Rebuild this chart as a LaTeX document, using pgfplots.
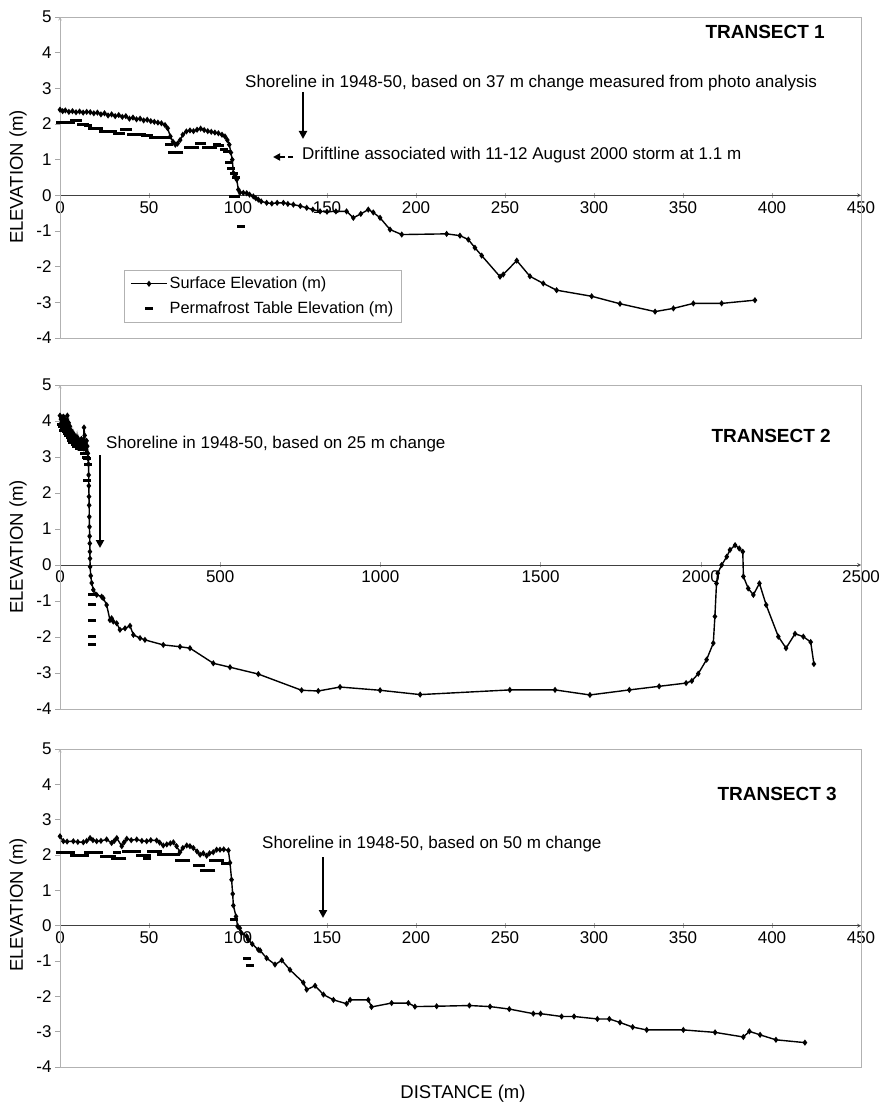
\documentclass[border=0pt]{standalone}
\usepackage{pgfplots}
\pgfplotsset{compat=1.18}
\usepackage{fontspec}
\setmainfont{Liberation Sans}
\usetikzlibrary{arrows.meta}

\pgfplotsset{
  transect/.style={
    scale only axis, width=801pt,
    axis x line=middle, axis y line=left,
    every non boxed x axis/.append style={x axis line style={-}},
    every non boxed y axis/.append style={y axis line style={-}},
    x axis line style={black!75, line width=0.7pt},
    y axis line style={gray!60, line width=0.6pt},
    hide obscured x ticks=false, hide obscured y ticks=false,
    ymin=-4, ymax=5, ytick={-4,-3,...,5},
    tick label style={font=\fontsize{17}{20}\selectfont},
    /pgf/number format/assume math mode=true,
    /pgf/number format/1000 sep={},
    ytick align=outside, xtick align=center,
    major tick length=5pt,
    tick style={gray!70, line width=0.6pt},
    clip=false,
    legend image code/.code={\draw[mark repeat=2,mark phase=2,##1] plot coordinates {(0pt,0pt) (18pt,0pt) (36pt,0pt)};},
  },
  surf/.style={black, line width=1.4pt, mark=diamond*, mark size=2pt},
  perm/.style={black, only marks, mark=-, mark size=4pt, mark options={line width=3pt}},
}

\begin{document}
\begin{tikzpicture}
\useasboundingbox (0,0) rectangle (879pt,-1105pt);

% ---------------- TRANSECT 1 ----------------
\begin{axis}[transect, at={(60pt,-17pt)}, anchor=north west, height=321pt,
  xmin=0, xmax=450, xtick={0,50,...,450},
  legend style={at={(0.080,0.212)}, anchor=north west, draw=gray!60,
    font=\fontsize{16.3}{19}\selectfont, legend cell align=left,
    row sep=7pt, inner xsep=6pt, inner ysep=5pt}]
\draw[gray!60, line width=0.6pt] (rel axis cs:0,0) rectangle (rel axis cs:1,1);
\addplot[surf] coordinates {
(0,2.40) (1.5,2.36) (3,2.38) (5,2.34) (7,2.36) (9,2.33) (11,2.35) (13,2.32) (15,2.34) (17,2.33)
(19,2.30) (21,2.32) (23,2.27) (25,2.30) (27,2.24) (29,2.27) (31,2.22) (33,2.25) (35,2.20) (37,2.22)
(39,2.15) (41,2.18) (43,2.13) (45,2.15) (47,2.10) (49,2.12) (51,2.08) (53,2.06) (55,2.04) (57,2.02)
(59,1.97) (60.5,1.88) (62,1.65) (63.5,1.50) (64.8,1.42) (66,1.45) (67.5,1.55) (69,1.70) (71,1.79)
(73,1.82) (75,1.80) (77,1.84) (79,1.87) (81,1.83) (83,1.80) (85,1.78) (87,1.76) (89,1.74) (91,1.70)
(92.7,1.65) (94,1.55) (95.1,1.42) (96,1.20) (96.8,1.00) (97.4,0.63) (98.3,0.55) (99.3,0.44)
(100.2,0.16) (101.1,0.08) (103,0.07) (104.9,0.06) (106.5,0.02) (108.6,-0.03) (110,-0.08)
(111.4,-0.12) (113,-0.17) (116.1,-0.21) (119,-0.23) (122,-0.21) (125.5,-0.21) (128,-0.24)
(131.1,-0.26) (135,-0.30) (138.6,-0.35) (142,-0.40) (146.1,-0.45) (150,-0.46) (155,-0.45)
(161,-0.45) (164.8,-0.63) (169,-0.52) (173.2,-0.40) (176,-0.48) (179.8,-0.63) (185.4,-0.96)
(192,-1.10) (217.2,-1.08) (224.7,-1.13) (229.4,-1.24) (233.1,-1.47) (236.9,-1.69) (247.2,-2.28)
(249,-2.22) (256.6,-1.83) (264,-2.27) (271.5,-2.47) (279,-2.66) (298.7,-2.83) (314.6,-3.04)
(334.3,-3.26) (344.6,-3.17) (355.8,-3.03) (371.7,-3.03) (390.4,-2.94)
};
\addlegendentry{Surface Elevation (m)}
\addplot[perm] coordinates {
(0,2.03) (2,2.03) (4,2.03) (6,2.05) (8,2.10) (10,2.10) (12,1.98) (14,1.98) (16,1.96) (18,1.88)
(20,1.88) (22,1.86) (24,1.79) (26,1.79) (28,1.78) (30,1.78) (32,1.74) (34,1.74) (36,1.84) (38,1.84)
(40,1.70) (42,1.70) (44,1.70) (46,1.70) (48,1.69) (50,1.68) (52,1.63) (54,1.63) (56,1.62) (58,1.62)
(60,1.62) (61.5,1.42) (63,1.20) (65,1.20) (67,1.20) (72,1.33) (74,1.33) (76,1.35) (78,1.46) (80,1.46)
(82,1.35) (84,1.33) (86,1.33) (88,1.42) (90,1.40) (92,1.28) (94,1.23) (95,0.92) (96,0.74)
(97.5,0.61) (99,0.51) (97,-0.03) (99,-0.03) (101.5,-0.88)
};
\addlegendentry{Permafrost Table Elevation (m)}
\end{axis}

% ---------------- TRANSECT 2 ----------------
\begin{axis}[transect, at={(60pt,-385pt)}, anchor=north west, height=324pt,
  xmin=0, xmax=2500, xtick={0,500,...,2500}]
\draw[gray!60, line width=0.6pt] (rel axis cs:0,0) rectangle (rel axis cs:1,1);
\addplot[surf] coordinates {
(0,4.15) (3,4.05) (5,3.95) (7,4.10) (9,3.85) (11,4.12) (13,3.90) (15,4.05) (17,3.80) (19,4.00)
(21,3.92) (23,4.15) (25,3.85) (27,3.95) (29,3.70) (31,3.85) (33,3.75) (35,3.60) (37,3.70) (39,3.55)
(41,3.65) (43,3.50) (45,3.60) (47,3.45) (49,3.55) (51,3.40) (53,3.55) (55,3.35) (57,3.50) (59,3.40)
(61,3.30) (63,3.45) (65,3.35) (67,3.50) (69,3.25) (71,3.40) (73,3.30) (75,3.82) (77,3.60) (79,3.35)
(81,3.20) (83,3.45) (85,3.30) (87,3.10) (88,2.95) (89,2.80) (89.5,2.50) (90,2.20) (90.5,1.90)
(91,1.66) (91.5,1.34) (92,1.06) (92.5,0.80) (93,0.60) (93.3,0.37) (93.6,0.18) (94,-0.05)
(96,-0.30) (99,-0.50) (104,-0.69) (114.5,-0.83) (130,-0.88) (135,-0.92) (145.6,-1.11) (156,-1.53)
(161,-1.48) (166.4,-1.57) (177,-1.62) (187,-1.80) (203,-1.76) (218.5,-1.69) (229,-1.94)
(249.7,-2.03) (265,-2.08) (322.4,-2.22) (374.5,-2.27) (405.7,-2.31) (478.5,-2.73) (530.6,-2.84)
(619,-3.03) (754,-3.48) (806,-3.50) (874,-3.39) (999,-3.48) (1124,-3.60) (1404,-3.47) (1545,-3.47)
(1654,-3.61) (1777,-3.47) (1870,-3.37) (1954,-3.28) (1972,-3.22) (1992,-3.02) (2018,-2.63)
(2039,-2.17) (2044,-1.43) (2049,-0.51) (2053,-0.23) (2065,0.00) (2081,0.23) (2091,0.42)
(2107,0.55) (2120,0.46) (2131,0.37) (2133,-0.32) (2148,-0.65) (2164,-0.83) (2183,-0.51)
(2204,-1.11) (2242,-1.99) (2266,-2.31) (2294,-1.91) (2320,-1.99) (2343,-2.14) (2353,-2.75)
};
\addplot[perm] coordinates {
(2,3.90) (6,3.85) (10,3.75) (14,3.80) (18,3.70) (22,3.65) (26,3.60) (30,3.55) (34,3.45) (38,3.40)
(42,3.50) (46,3.35) (50,3.30) (56,3.40) (60,3.25) (66,3.30) (70,3.20) (76,3.10) (80,3.00)
(84,2.95) (86,2.80) (85,2.36) (99,-0.83) (99,-1.09) (99,-1.55) (99,-1.99) (99,-2.20)
};
\end{axis}

% ---------------- TRANSECT 3 ----------------
\begin{axis}[transect, at={(60pt,-749pt)}, anchor=north west, height=318pt,
  xmin=0, xmax=450, xtick={0,50,...,450}]
\draw[gray!60, line width=0.6pt] (rel axis cs:0,0) rectangle (rel axis cs:1,1);
\addplot[surf] coordinates {
(0,2.53) (1.9,2.39) (4,2.38) (7.5,2.39) (10,2.37) (13.1,2.36) (15,2.40) (16.9,2.48) (18.5,2.42)
(20.6,2.39) (23,2.40) (26.2,2.44) (29,2.34) (30.5,2.40) (31.9,2.48) (34.7,2.25) (36,2.36)
(37.5,2.46) (40,2.42) (43.1,2.44) (46,2.40) (48.7,2.39) (51,2.42) (54.3,2.41) (56,2.35) (58,2.27)
(60,2.30) (62,2.33) (63.7,2.36) (65.5,2.25) (67.4,2.08) (69,2.20) (71.2,2.27) (73,2.25) (74.9,2.20)
(77,2.10) (78.7,2.01) (80.5,2.05) (82.4,1.98) (84,2.05) (86.1,2.08) (88,2.15) (89.9,2.15)
(92,2.16) (94.6,2.13) (95.5,1.78) (96.4,1.30) (97,0.90) (97.4,0.57) (98.9,0.26) (99.8,-0.02)
(101,-0.07) (102,-0.21) (104.9,-0.30) (105.8,-0.40) (108,-0.52) (111.4,-0.68) (112.4,-0.70)
(116.1,-0.92) (120.8,-1.10) (124.6,-0.98) (129.2,-1.25) (136.7,-1.61) (138.6,-1.81) (143.3,-1.70)
(148,-1.95) (153.6,-2.10) (161,-2.21) (163,-2.10) (173.2,-2.10) (175,-2.30) (186.3,-2.19)
(195.7,-2.19) (199.4,-2.29) (211.6,-2.28) (230,-2.26) (241.6,-2.29) (252.4,-2.36) (265.9,-2.49)
(270,-2.49) (281.8,-2.57) (288.8,-2.57) (301.9,-2.64) (308.6,-2.64) (314.6,-2.74) (321.7,-2.87)
(329.6,-2.95) (350.2,-2.95) (368,-3.02) (383.9,-3.15) (387.3,-2.99) (393.3,-3.09) (402.2,-3.23)
(418.5,-3.31)
};
\addplot[perm] coordinates {
(0,2.06) (2,2.06) (4,2.06) (6,2.06) (8,1.98) (10,1.98) (12,1.98) (14,1.98) (16,2.06) (18,2.06)
(20,2.06) (22,2.06) (24.5,1.95) (27,1.95) (29,1.95) (31,1.89) (33,1.89) (35,1.89) (32,2.08)
(37,2.10) (39,2.10) (41,2.10) (43,2.10) (45,1.98) (47,1.98) (49,1.98) (48.7,1.89) (51,2.10)
(53,2.10) (55,2.10) (57,2.01) (59,2.01) (61,2.01) (63,2.01) (65,2.01) (67,1.85) (69,1.85)
(71,1.85) (77,1.70) (79,1.70) (81,1.57) (83,1.57) (85,1.57) (86,1.85) (88,1.85) (90,1.85)
(92.5,1.76) (94,1.76) (98,0.17) (104.9,-0.94) (106.7,-1.13)
};
\end{axis}

% ---------------- annotations ----------------
\tikzset{ann/.style={font=\fontsize{17}{20}\selectfont, inner sep=0pt},
         ttl/.style={font=\bfseries\fontsize{19}{22}\selectfont, inner sep=0pt, anchor=east},
         lab/.style={font=\fontsize{18.5}{22}\selectfont, inner sep=0pt}}
\node[ttl] at (825pt,-32pt) {TRANSECT 1};
\node[ttl] at (831pt,-436pt) {TRANSECT 2};
\node[ttl] at (837pt,-794pt) {TRANSECT 3};

\node[ann, anchor=west] at (245pt,-83pt) {Shoreline in 1948-50, based on 37 m change measured from photo analysis};
\draw[line width=2.4pt, -{Triangle[length=8pt, width=8pt]}] (303pt,-92pt) -- (303pt,-139pt);
\node[ann, anchor=west] at (302pt,-155pt) {Driftline associated with 11-12 August 2000 storm at 1.1 m};
\draw[line width=2.4pt, dash pattern=on 5pt off 3pt, -{Triangle[length=7pt, width=7pt]}] (293pt,-157pt) -- (273pt,-157pt);

\node[ann, anchor=west] at (106pt,-444pt) {Shoreline in 1948-50, based on 25 m change};
\draw[line width=2.4pt, -{Triangle[length=8pt, width=8pt]}] (100pt,-455pt) -- (100pt,-548pt);

\node[ann, anchor=west] at (262pt,-844pt) {Shoreline in 1948-50, based on 50 m change};
\draw[line width=2.4pt, -{Triangle[length=8pt, width=8pt]}] (323pt,-857pt) -- (323pt,-918pt);

\node[lab, rotate=90] at (18pt,-177pt) {ELEVATION (m)};
\node[lab, rotate=90] at (18pt,-547pt) {ELEVATION (m)};
\node[lab, rotate=90] at (18pt,-905pt) {ELEVATION (m)};
\node[lab] at (463pt,-1094pt) {DISTANCE (m)};
\end{tikzpicture}
\end{document}
